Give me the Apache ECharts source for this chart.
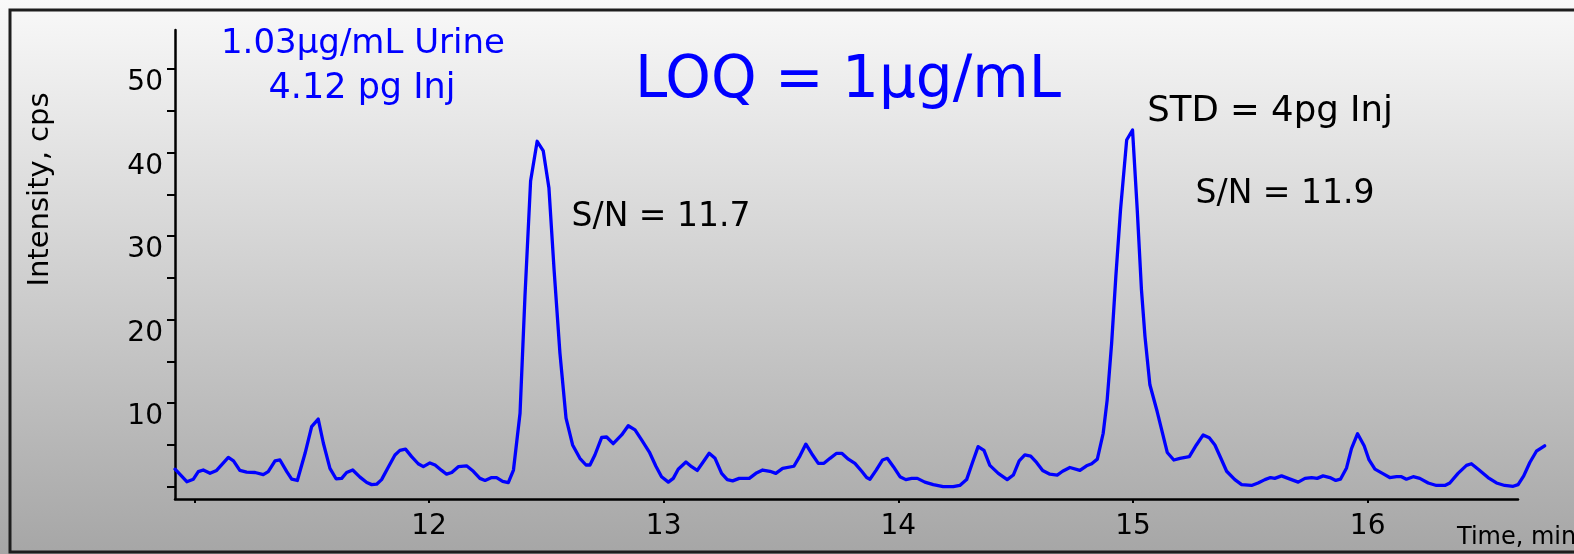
<!DOCTYPE html>
<html>
<head>
<meta charset="utf-8">
<script src="https://cdn.jsdelivr.net/npm/echarts@6/dist/echarts.min.js"></script>
<style>
  html, body { margin: 0; padding: 0; background: #ffffff; }
  #chart { width: 1574px; height: 554px; }
</style>
</head>
<body>
<div id="chart"></div>
<script>
// Retention time (min) of each acquired point
const times = [
  10.918, 10.968, 10.996, 11.017, 11.038, 11.067, 11.095, 11.145, 11.167, 11.194,
  11.223, 11.259, 11.294, 11.315, 11.344, 11.365, 11.394, 11.415, 11.439, 11.472,
  11.500, 11.528, 11.550, 11.578, 11.604, 11.628, 11.649, 11.675, 11.706, 11.735,
  11.756, 11.777, 11.798, 11.827, 11.855, 11.876, 11.900, 11.926, 11.954, 11.976,
  12.004, 12.026, 12.054, 12.075, 12.097, 12.125, 12.160, 12.189, 12.217, 12.239,
  12.267, 12.288, 12.314, 12.338, 12.360, 12.388, 12.409, 12.433, 12.461, 12.487,
  12.511, 12.533, 12.558, 12.584, 12.612, 12.643, 12.669, 12.686, 12.707, 12.736,
  12.757, 12.785, 12.821, 12.849, 12.878, 12.906, 12.939, 12.967, 12.991, 13.020,
  13.041, 13.062, 13.095, 13.119, 13.143, 13.172, 13.194, 13.219, 13.247, 13.271,
  13.294, 13.322, 13.365, 13.393, 13.422, 13.453, 13.478, 13.507, 13.555, 13.581,
  13.606, 13.631, 13.659, 13.683, 13.709, 13.737, 13.759, 13.787, 13.815, 13.844,
  13.865, 13.879, 13.905, 13.933, 13.953, 13.979, 14.007, 14.032, 14.057, 14.081,
  14.113, 14.149, 14.191, 14.234, 14.262, 14.291, 14.316, 14.340, 14.365, 14.390,
  14.426, 14.464, 14.490, 14.515, 14.539, 14.564, 14.589, 14.615, 14.646, 14.677,
  14.700, 14.731, 14.774, 14.802, 14.824, 14.848, 14.873, 14.890, 14.909, 14.927,
  14.947, 14.973, 14.998, 15.018, 15.036, 15.051, 15.072, 15.103, 15.146, 15.174,
  15.200, 15.240, 15.270, 15.299, 15.325, 15.349, 15.373, 15.399, 15.434, 15.463,
  15.505, 15.533, 15.562, 15.586, 15.604, 15.633, 15.661, 15.704, 15.733, 15.761,
  15.785, 15.810, 15.839, 15.864, 15.884, 15.910, 15.931, 15.957, 15.985, 16.006,
  16.031, 16.063, 16.094, 16.123, 16.144, 16.165, 16.194, 16.222, 16.258, 16.293,
  16.329, 16.350, 16.385, 16.421, 16.442, 16.471, 16.513, 16.549, 16.584, 16.620,
  16.641, 16.665, 16.691, 16.719, 16.754
];

// Detector response (cps) at each time above
const intensity = [
  2.1, 0.6, 0.9, 1.8, 2.0, 1.6, 1.95, 3.5, 3.1, 1.95,
  1.75, 1.7, 1.45, 1.8, 3.1, 3.2, 1.8, 0.9, 0.75, 4.0,
  7.2, 8.1, 5.2, 2.2, 0.95, 1.0, 1.7, 2.0, 1.15, 0.5,
  0.25, 0.3, 0.85, 2.35, 3.8, 4.35, 4.5, 3.6, 2.75, 2.4,
  2.85, 2.6, 1.95, 1.5, 1.7, 2.4, 2.5, 1.85, 1.0, 0.75,
  1.1, 1.1, 0.65, 0.5, 2.0, 8.8, 22.8, 36.6, 41.35, 40.2,
  35.8, 26.0, 16.0, 8.2, 5.0, 3.4, 2.6, 2.6, 3.8, 5.9,
  5.95, 5.15, 6.2, 7.3, 6.8, 5.6, 4.15, 2.45, 1.2, 0.55,
  1.0, 2.1, 2.95, 2.4, 1.95, 3.1, 4.0, 3.4, 1.6, 0.85,
  0.7, 1.0, 1.0, 1.6, 2.0, 1.85, 1.6, 2.2, 2.45, 3.7,
  5.1, 3.95, 2.8, 2.8, 3.4, 4.0, 4.0, 3.3, 2.8, 1.85,
  1.1, 0.9, 1.95, 3.2, 3.4, 2.4, 1.2, 0.85, 1.0, 1.0,
  0.55, 0.25, 0.0, 0.0, 0.15, 0.85, 2.9, 4.8, 4.35, 2.55,
  1.6, 0.85, 1.4, 3.1, 3.8, 3.65, 2.9, 1.95, 1.5, 1.4,
  1.85, 2.3, 1.95, 2.5, 2.75, 3.3, 6.4, 10.4, 17.2, 25.2,
  33.2, 41.5, 42.7, 33.2, 23.6, 18.0, 12.2, 9.0, 4.1, 3.2,
  3.4, 3.6, 5.0, 6.2, 5.85, 5.0, 3.5, 1.85, 0.85, 0.25,
  0.15, 0.45, 0.85, 1.1, 1.0, 1.3, 1.0, 0.55, 1.0, 1.1,
  1.0, 1.3, 1.1, 0.75, 0.9, 2.25, 4.55, 6.35, 4.9, 3.2,
  2.1, 1.6, 1.1, 1.2, 1.2, 0.9, 1.2, 1.0, 0.45, 0.15,
  0.15, 0.45, 1.6, 2.55, 2.75, 2.1, 1.1, 0.45, 0.15, 0.05,
  0.25, 1.3, 2.9, 4.25, 4.9
];

// Axis ticks and labels
const timeTicks = [11, 12, 13, 14, 15, 16];
const timeLabels = [12, 13, 14, 15, 16];
const intensityTicks = [0, 5, 10, 15, 20, 25, 30, 35, 40, 45, 50];
const intensityLabels = [10, 20, 30, 40, 50];

// Annotation texts
const sampleLine1 = '1.03\u03bcg/mL Urine';
const sampleLine2 = '4.12 pg Inj';
const headline = 'LOQ = 1\u03bcg/mL';
const sampleSN = 'S/N = 11.7';
const stdLabel = 'STD = 4pg Inj';
const stdSN = 'S/N = 11.9';
const timeTitle = 'Time, min';
const intensityTitle = 'Intensity, cps';

const FONT = '"DejaVu Sans", "Noto Sans", sans-serif';

// Axis ranges: the drawn time axis stops at X_AXIS_MAX while the trace runs a little further
const X_MIN = 10.9177;
const X_AXIS_MAX = 16.6406;
const X_TRACE_MAX = 16.76;
const Y_MIN = -1.47;
const Y_MAX = 54.67;

// Plot frame in pixels
const W = 1574;
const GRID_LEFT = 175;
const GRID_RIGHT = 56;
const GRID_TOP = 30;
const GRID_BOTTOM = 55;

const pxPerMin = (W - GRID_LEFT - GRID_RIGHT) / (X_AXIS_MAX - X_MIN);
const traceRight = W - GRID_LEFT - (X_TRACE_MAX - X_MIN) * pxPerMin;

const seriesData = times.map((t, i) => [t, intensity[i]]);

const chart = echarts.init(document.getElementById('chart'), null, { renderer: 'canvas' });

function note(text, x, y, size, color, align) {
  return {
    type: 'text',
    x: x,
    y: y,
    silent: true,
    z: 10,
    style: {
      text: text,
      fontSize: size,
      fontFamily: FONT,
      fill: color,
      align: align || 'center',
      verticalAlign: 'middle'
    }
  };
}

chart.setOption({
  animation: false,
  backgroundColor: new echarts.graphic.LinearGradient(0, 0, 0, 1, [
    { offset: 0, color: '#f9f9f9' },
    { offset: 1, color: '#a6a6a6' }
  ]),
  grid: [
    // trace area (wider on the right so the trace can run past the axis end)
    { left: GRID_LEFT, right: traceRight, top: GRID_TOP, bottom: GRID_BOTTOM },
    // drawn axes
    { left: GRID_LEFT, right: GRID_RIGHT, top: GRID_TOP, bottom: GRID_BOTTOM }
  ],
  xAxis: [
    {
      gridIndex: 0,
      type: 'value',
      min: X_MIN,
      max: X_TRACE_MAX,
      show: false
    },
    {
      gridIndex: 1,
      type: 'value',
      min: X_MIN,
      max: X_AXIS_MAX,
      splitLine: { show: false },
      axisLine: { show: true, onZero: false, lineStyle: { color: '#000', width: 2.5 } },
      axisTick: {
        show: true,
        customValues: timeTicks,
        length: 4,
        lineStyle: { color: '#000', width: 2 }
      },
      axisLabel: {
        customValues: timeLabels,
        fontSize: 28,
        fontFamily: FONT,
        color: '#000',
        margin: 14
      }
    }
  ],
  yAxis: [
    {
      gridIndex: 0,
      type: 'value',
      min: Y_MIN,
      max: Y_MAX,
      show: false
    },
    {
      gridIndex: 1,
      type: 'value',
      min: Y_MIN,
      max: Y_MAX,
      splitLine: { show: false },
      axisLine: { show: true, onZero: false, lineStyle: { color: '#000', width: 2.5 } },
      axisTick: {
        show: true,
        customValues: intensityTicks,
        length: 8,
        lineStyle: { color: '#000', width: 2 }
      },
      axisLabel: {
        customValues: intensityLabels,
        fontSize: 28,
        fontFamily: FONT,
        color: '#000',
        margin: 12,
        verticalAlign: 'top'
      },
      name: intensityTitle,
      nameLocation: 'middle',
      nameRotate: 90,
      nameGap: 120,
      nameTextStyle: {
        fontSize: 29,
        fontFamily: FONT,
        color: '#000',
        padding: [0, 0, 0, 150]
      }
    }
  ],
  series: [{
    type: 'line',
    xAxisIndex: 0,
    yAxisIndex: 0,
    data: seriesData,
    symbol: 'none',
    showSymbol: false,
    smooth: false,
    lineStyle: { color: '#0000ff', width: 3.3, join: 'round', cap: 'round' },
    z: 5
  }],
  graphic: [
    {
      type: 'rect',
      silent: true,
      z: 1,
      shape: { x: 10, y: 10, width: 1620, height: 542 },
      style: { fill: 'none', stroke: '#1e1e1e', lineWidth: 3 }
    },
    note(sampleLine1, 363, 44, 34, '#0000ff'),
    note(sampleLine2, 362, 89, 35, '#0000ff'),
    note(headline, 848, 82, 58, '#0000ff'),
    note(sampleSN, 661, 217, 33, '#000000'),
    note(stdLabel, 1270, 112, 35.5, '#000000'),
    note(stdSN, 1285, 194, 33, '#000000'),
    note(timeTitle, 1457, 538, 24, '#000000', 'left')
  ]
});
</script>
</body>
</html>
